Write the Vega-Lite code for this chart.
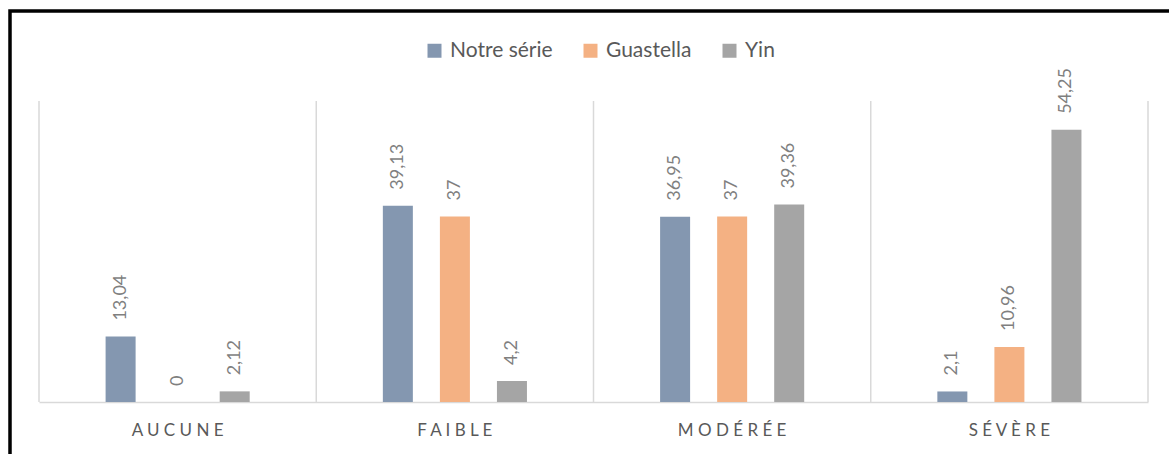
{
  "$schema": "https://vega.github.io/schema/vega-lite/v6.json",
  "autosize": "none",
  "padding": {"left": 10, "top": 11, "right": -8, "bottom": -8},
  "width": 1167,
  "height": 451,
  "background": "white",
  "config": {
    "font": "Lato",
    "view": {"stroke": "#000000", "strokeWidth": 3.5},
    "axisX": {
      "title": null,
      "labelAngle": 0,
      "ticks": false,
      "grid": false,
      "domainColor": "#D9D9D9",
      "domainWidth": 1.5,
      "offset": -60,
      "labelPadding": 20,
      "labelFontSize": 17,
      "labelColor": "#595959"
    }
  },
  "data": {"values": [
      {"cat": "AUCUNE", "serie": "Notre série", "val": 13.04, "label": "13,04"},
      {"cat": "AUCUNE", "serie": "Guastella", "val": 0, "label": "0"},
      {"cat": "AUCUNE", "serie": "Yin", "val": 2.12, "label": "2,12"},
      {"cat": "FAIBLE", "serie": "Notre série", "val": 39.13, "label": "39,13"},
      {"cat": "FAIBLE", "serie": "Guastella", "val": 37, "label": "37"},
      {"cat": "FAIBLE", "serie": "Yin", "val": 4.2, "label": "4,2"},
      {"cat": "MODÉRÉE", "serie": "Notre série", "val": 36.95, "label": "36,95"},
      {"cat": "MODÉRÉE", "serie": "Guastella", "val": 37, "label": "37"},
      {"cat": "MODÉRÉE", "serie": "Yin", "val": 39.36, "label": "39,36"},
      {"cat": "SÉVÈRE", "serie": "Notre série", "val": 2.1, "label": "2,1"},
      {"cat": "SÉVÈRE", "serie": "Guastella", "val": 10.96, "label": "10,96"},
      {"cat": "SÉVÈRE", "serie": "Yin", "val": 54.25, "label": "54,25"}
  ]},
  "layer": [
    {
      "transform": [{"filter": "datum.serie == 'Notre série'"}],
      "mark": {"type": "rule", "color": "#D9D9D9", "strokeWidth": 1.5},
      "encoding": {
        "x": {"field": "cat", "type": "nominal", "bandPosition": 0, "axis": {"labelExpr": "join(split(datum.label, ''), ' ')"}},
        "y": {"datum": 0, "type": "quantitative", "axis": null},
        "y2": {"datum": 60}
      }
    },
    {
      "transform": [{"filter": "datum.serie == 'Notre série' && datum.cat == 'SÉVÈRE'"}],
      "mark": {"type": "rule", "color": "#D9D9D9", "strokeWidth": 1.5},
      "encoding": {
        "x": {"field": "cat", "type": "nominal", "bandPosition": 1, "axis": {"labelExpr": "join(split(datum.label, ''), ' ')"}},
        "y": {"datum": 0, "type": "quantitative", "axis": null},
        "y2": {"datum": 60}
      }
    },
    {
      "encoding": {
        "x": {
          "field": "cat",
          "type": "nominal",
          "scale": {"domain": ["AUCUNE", "FAIBLE", "MODÉRÉE", "SÉVÈRE"], "range": [29, 1138], "paddingInner": 0, "paddingOuter": 0},
          "axis": {"labelExpr": "join(split(datum.label, ''), ' ')"}
        },
        "xOffset": {
          "field": "serie",
          "type": "nominal",
          "scale": {"domain": ["Notre série", "Guastella", "Yin"], "range": [66.6, 210.7], "paddingInner": 0.474, "paddingOuter": 0}
        },
        "y": {
          "field": "val",
          "type": "quantitative",
          "scale": {"domain": [0, 60], "range": [391, 90], "nice": false},
          "axis": null
        }
      },
      "layer": [
        {
          "mark": {"type": "bar"},
          "encoding": {
            "color": {
              "field": "serie",
              "type": "nominal",
              "scale": {"domain": ["Notre série", "Guastella", "Yin"], "range": ["#8497B0", "#F4B183", "#A5A5A5"]},
              "legend": {
                "title": null,
                "orient": "none",
                "legendX": 414,
                "legendY": 29,
                "direction": "horizontal",
                "symbolType": "square",
                "symbolSize": 196,
                "symbolStrokeWidth": 0,
                "labelFontSize": 21,
                "labelColor": "#595959",
                "labelOffset": 5,
                "columnPadding": 27,
                "padding": 0
              }
            }
          }
        },
        {
          "mark": {"type": "text", "angle": 270, "align": "left", "baseline": "middle", "dx": 16, "fontSize": 18, "color": "#7F7F7F"},
          "encoding": {
            "text": {"field": "label", "type": "nominal"}
          }
        }
      ]
    }
  ]
}
